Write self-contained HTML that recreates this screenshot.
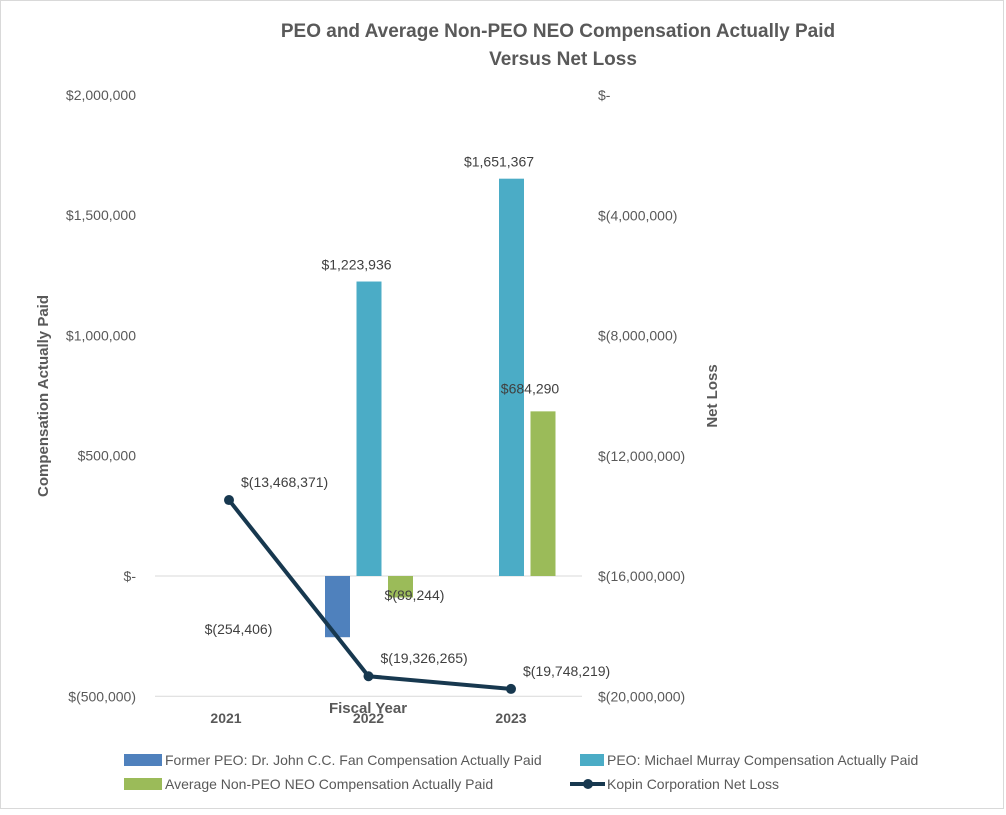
<!DOCTYPE html>
<html><head><meta charset="utf-8"><style>
body{margin:0;background:#fff;width:1006px;height:810px;overflow:hidden;font-family:"Liberation Sans",sans-serif}
</style></head><body>
<svg id="c" width="1006" height="810" xmlns="http://www.w3.org/2000/svg" font-family="Liberation Sans, sans-serif">
<rect x="0.5" y="0.5" width="1003" height="808" fill="#fff" stroke="#d9d9d9"/>
<text x="558" y="37" text-anchor="middle" font-size="19" font-weight="bold" fill="#595959">PEO and Average Non-PEO NEO Compensation Actually Paid</text>
<text x="563" y="65" text-anchor="middle" font-size="19" font-weight="bold" fill="#595959">Versus Net Loss</text>
<text transform="translate(48,396) rotate(-90)" text-anchor="middle" font-size="15" font-weight="bold" fill="#595959">Compensation Actually Paid</text>
<text transform="translate(717,396) rotate(-90)" text-anchor="middle" font-size="15" font-weight="bold" fill="#595959">Net Loss</text>
<text x="368" y="713" text-anchor="middle" font-size="15" font-weight="bold" fill="#595959">Fiscal Year</text>
<g id="g"></g>
<g font-size="14" fill="#595959">
<rect x="124" y="754" width="38" height="12" fill="#4f81bd"/>
<text x="165" y="765">Former PEO: Dr. John C.C. Fan Compensation Actually Paid</text>
<rect x="580" y="754" width="24" height="12" fill="#4bacc6"/>
<text x="607" y="765">PEO: Michael Murray Compensation Actually Paid</text>
<rect x="124" y="778" width="38" height="12" fill="#9bbb59"/>
<text x="165" y="789">Average Non-PEO NEO Compensation Actually Paid</text>
<line x1="570" y1="784" x2="605" y2="784" stroke="#17384f" stroke-width="4"/>
<circle cx="588" cy="784" r="5" fill="#17384f"/>
<text x="607" y="789">Kopin Corporation Net Loss</text>
</g>
</svg>
<script>
const years=["2021","2022","2023"];
const formerPeo=[null,-254406,null];
const peoMurray=[null,1223936,1651367];
const nonPeo=[null,-89244,684290];
const netLoss=[-13468371,-19326265,-19748219];
const leftTicks=[2000000,1500000,1000000,500000,0,-500000];
const leftTickLabels=["$2,000,000","$1,500,000","$1,000,000","$500,000","$-","$(500,000)"];
const rightTicks=[0,-4000000,-8000000,-12000000,-16000000,-20000000];
const rightTickLabels=["$-","$(4,000,000)","$(8,000,000)","$(12,000,000)","$(16,000,000)","$(20,000,000)"];
const NS="http://www.w3.org/2000/svg",g=document.getElementById('g');
const yL=v=>576-v*(120.3/500000);
const yR=v=>95-v*(120.3/4000000);
const xC=i=>226+i*142.5;
function el(t,a){const e=document.createElementNS(NS,t);for(const k in a)e.setAttribute(k,a[k]);g.appendChild(e);return e;}
function fmt(v){const s="$"+Math.abs(v).toLocaleString("en-US");return v<0?"$("+Math.abs(v).toLocaleString("en-US")+")":s;}
let l=el('line',{x1:155,x2:582,y1:yL(0),y2:yL(0),stroke:'#d9d9d9'});

l=el('line',{x1:155,x2:582,y1:yL(-500000),y2:yL(-500000),stroke:'#d9d9d9'});

leftTicks.forEach((v,i)=>{const t=el('text',{x:136,y:yL(v)+5,'text-anchor':'end','font-size':14,fill:'#595959'});t.textContent=leftTickLabels[i];
});
rightTicks.forEach((v,i)=>{const t=el('text',{x:598,y:yR(v)+5,'font-size':14,fill:'#595959'});t.textContent=rightTickLabels[i];
});
years.forEach((y,i)=>{const t=el('text',{x:xC(i),y:723,'text-anchor':'middle','font-size':14,'font-weight':'bold',fill:'#595959'});t.textContent=y;
});
const series=[[formerPeo,'#4f81bd',-43.5,'bar-former-peo'],[peoMurray,'#4bacc6',-12,'bar-peo-murray'],[nonPeo,'#9bbb59',19.5,'bar-non-peo']];
series.forEach(([arr,col,off,nm])=>{arr.forEach((v,i)=>{if(v==null)return;
const y0=yL(0),y1=yL(v);const r=el('rect',{x:xC(i)+off,y:Math.min(y0,y1),width:25,height:Math.max(Math.abs(y1-y0),2),fill:col});
});});
// labels
const lab=(x,y,s,a)=>{const t=el('text',{x:x,y:y,'text-anchor':a||'middle','font-size':14,fill:'#404040'});t.textContent=s;
};
formerPeo.forEach((v,i)=>{if(v!=null)lab(xC(i)-130,yL(0)+58,fmt(v));});
peoMurray.forEach((v,i)=>{if(v!=null)lab(xC(i)-12,yL(v)-12,fmt(v));});
nonPeo.forEach((v,i)=>{if(v==null)return;if(v<0)lab(xC(i)+46,yL(0)+24,fmt(v));else lab(xC(i)+19,yL(v)-18,fmt(v));});
const pts=netLoss.map((v,i)=>[xC(i)+(i==0?3:0),yR(v)]);
const p=el('polyline',{points:pts.map(q=>q.join(',')).join(' '),fill:'none',stroke:'#17384f','stroke-width':4,'stroke-linejoin':'round'});

pts.forEach((q,i)=>{const c=el('circle',{cx:q[0],cy:q[1],r:5,fill:'#17384f'});

lab(q[0]+12,q[1]-13,fmt(netLoss[i]),'start');});
</script>
</body></html>
